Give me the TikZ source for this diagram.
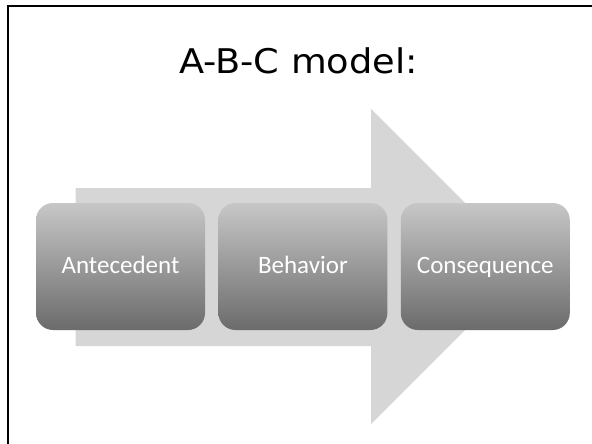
\documentclass[tikz,border=0pt]{standalone}
\usepackage{fontspec}
\setmainfont{DejaVu Sans}
\newfontfamily\titlefont[FakeStretch=1.08]{DejaVu Sans}
\newfontfamily\boxfont{Carlito}
\usetikzlibrary{positioning}

\begin{document}
\begin{tikzpicture}[x=1pt,y=-1pt,
	stage/.style={rectangle,rounded corners=17pt,minimum width=169pt,minimum height=127pt,
		inner sep=0pt,top color=black!22,bottom color=black!58,text=white,
		text height=15pt,text depth=1pt,
		font=\boxfont\fontsize{25}{30}\selectfont},
	flow/.style={fill=black!16,draw=none}]
\useasboundingbox (0,0) rectangle (592,444);
\draw [line width=2.2pt] (8,446) -- (8,6) -- (594,6);
\node [anchor=base,font=\titlefont\fontsize{34}{40}\selectfont] (title) at (298.5,74) {A-B-C model:};
\fill [flow] (75.5,188) -- (371,188) -- (371,109) -- (528.5,266.5) -- (371,424) -- (371,346) -- (75.5,346) -- cycle;
\node [stage] (ante) at (120.5,266.5) {Antecedent};
\node [stage,right=13pt of ante] (beh) {Behavior};
\node [stage,right=13pt of beh] (cons) {Consequence};
\end{tikzpicture}
\end{document}
